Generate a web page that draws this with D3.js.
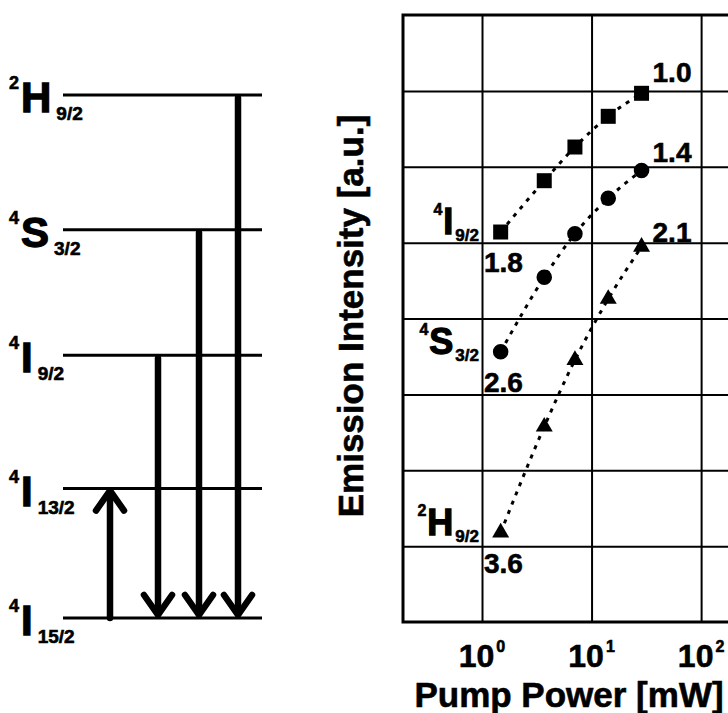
<!DOCTYPE html>
<html>
<head>
<meta charset="utf-8">
<script src="https://cdn.jsdelivr.net/npm/d3@7"></script>
<style>
  html, body { margin: 0; padding: 0; background: #fff; }
  svg { display: block; }
  text { font-family: "Liberation Sans", Arial, Helvetica, sans-serif; font-weight: bold; fill: #000; }
  .heavy { stroke: #000; stroke-width: 1.3px; }
  .semi { stroke: #000; stroke-width: 0.6px; }
</style>
</head>
<body>
<svg id="chart" width="728" height="713"></svg>
<script>
// ---- Energy-level scheme (energies in units of the pump photon energy) ----
const levelTerms  = [["4", "I", "15/2"], ["4", "I", "13/2"], ["4", "I", "9/2"], ["4", "S", "3/2"], ["2", "H", "9/2"]];
const levelEnergy = [0, 0.99, 2.01, 2.97, 4.0];
const pumpUpper   = 1;          // absorption 4I15/2 -> 4I13/2
const emitters    = [2, 3, 4];  // emission from these levels down to the ground state

// ---- Pump-power dependence of the emission ----
const pumpPower     = [1.48, 3.7, 7.05, 14.2, 28.6];          // mW
const seriesTerms   = [["4", "I", "9/2"], ["4", "S", "3/2"], ["2", "H", "9/2"]];
const intensityI92  = [1.38e5, 6.55e5, 1.82e6, 4.62e6, 9.29e6]; // a.u.
const intensityS32  = [3.65e3, 3.50e4, 1.31e5, 3.84e5, 8.93e5];
const intensityH92  = [15.1, 375, 2.84e3, 1.81e4, 8.83e4];
const slopeLow      = ["1.8", "2.6", "3.6"];
const slopeHigh     = ["1.0", "1.4", "2.1"];
const xTickValues   = [1, 10, 100];
const xTickExponent = ["0", "1", "2"];

const seriesValues  = [intensityI92, intensityS32, intensityH92];
const seriesSymbols = [d3.symbolSquare, d3.symbolCircle, d3.symbolTriangle];
const symbolSizes   = [225, 190, 125];
const highLabelDy   = [-11, -8, -5];

const svg = d3.select("#chart");

// Draws a spectroscopic term symbol: superscript multiplicity, letter, subscript J
function term(sel, parts, s) {
  const t = sel.append("text").attr("x", s.x).attr("y", s.y)
    .attr("text-anchor", s.anchor || "start");
  t.append("tspan").attr("font-size", s.sup).attr("class", "semi").attr("dy", -s.supRise).text(parts[0]);
  t.append("tspan").attr("font-size", s.main).attr("class", "heavy").attr("dy", s.supRise).attr("dx", s.mainDx).text(parts[1]);
  t.append("tspan").attr("font-size", s.sub).attr("class", "semi").attr("dy", s.subDrop).attr("dx", s.subDx).text(parts[2]);
  return t;
}

// ================= Left: energy-level diagram =================
const eY = d3.scaleLinear().domain([0, 4]).range([618, 95]);
const levelX0 = 63, levelX1 = 262;
const lev = svg.append("g");

lev.selectAll("line.level").data(levelEnergy).join("line")
  .attr("class", "level")
  .attr("x1", levelX0).attr("x2", levelX1)
  .attr("y1", d => eY(d)).attr("y2", d => eY(d))
  .attr("stroke", "#000").attr("stroke-width", 3);

levelTerms.forEach((p, i) => {
  term(lev, p, { x: 9, y: eY(levelEnergy[i]) + 17, sup: 18, main: 42, sub: 19,
                 supRise: 23, mainDx: 2, subDrop: 8, subDx: 5 });
});

// arrows
const arrowW = 6.5;
function shaft(x, y1, y2) {
  lev.append("line").attr("x1", x).attr("x2", x).attr("y1", y1).attr("y2", y2)
    .attr("stroke", "#000").attr("stroke-width", arrowW).attr("stroke-linecap", "round");
}
function head(x, tipY, dir) { // dir = -1 points up, +1 points down
  lev.append("path")
    .attr("d", d3.line()([[x - 14, tipY - dir * 20], [x, tipY], [x + 14, tipY - dir * 20]]))
    .attr("fill", "none").attr("stroke", "#000").attr("stroke-width", arrowW)
    .attr("stroke-linecap", "round").attr("stroke-linejoin", "round");
}
// pump (absorption) arrow
const pumpX = 110;
shaft(pumpX, eY(0), eY(levelEnergy[pumpUpper]) + 4);
head(pumpX, eY(levelEnergy[pumpUpper]) + 2, -1);
// emission arrows
const emitX = [158, 199, 238];
emitters.forEach((li, k) => {
  shaft(emitX[k], eY(levelEnergy[li]) + 3, eY(0) - 4);
  head(emitX[k], eY(0) - 3, 1);
});

// ================= Right: log-log intensity vs pump power =================
const plotL = 403, plotR = 780, plotT = 15, plotB = 622;
const x = d3.scaleLog().domain([0.19, 525]).range([plotL, plotR]);
const y = d3.scaleLog().domain([1, 1e8]).range([plotB, plotT]);
const plot = svg.append("g");

// grid via axes
plot.append("g").attr("transform", `translate(0,${plotB})`)
  .call(d3.axisBottom(x).tickValues(xTickValues).tickSizeInner(-(plotB - plotT)).tickSizeOuter(0).tickFormat(""))
  .call(g => g.select(".domain").remove())
  .call(g => g.selectAll(".tick line").attr("stroke", "#000").attr("stroke-width", 2));

const yGrid = d3.range(1, 8).map(k => Math.pow(10, k));
plot.append("g").attr("transform", `translate(${plotL},0)`)
  .call(d3.axisLeft(y).tickValues(yGrid).tickSizeInner(-(plotR - plotL)).tickSizeOuter(0).tickFormat(""))
  .call(g => g.select(".domain").remove())
  .call(g => g.selectAll(".tick line").attr("stroke", "#000").attr("stroke-width", 2));

plot.append("rect").attr("x", plotL).attr("y", plotT)
  .attr("width", plotR - plotL).attr("height", plotB - plotT)
  .attr("fill", "none").attr("stroke", "#000").attr("stroke-width", 3);

// tick labels 10^n
xTickValues.forEach((v, i) => {
  const t = plot.append("text").attr("x", x(v)).attr("y", 667).attr("text-anchor", "middle").attr("class", "semi");
  t.append("tspan").attr("font-size", 32).text("10");
  t.append("tspan").attr("font-size", 16).attr("dy", -15).attr("dx", 2).text(xTickExponent[i]);
});

// axis titles
svg.append("text").attr("x", (plotL + 735) / 2).attr("y", 707).attr("class", "semi")
  .attr("text-anchor", "middle").attr("font-size", 35).text("Pump Power [mW]");
svg.append("text").attr("transform", "translate(363,316) rotate(-90)").attr("class", "semi")
  .attr("text-anchor", "middle").attr("font-size", 35).text("Emission Intensity [a.u.]");

// series
const line = d3.line().x((d, i) => x(pumpPower[i])).y(d => y(d)).curve(d3.curveMonotoneX);
seriesValues.forEach((vals, s) => {
  plot.append("path").attr("d", line(vals))
    .attr("fill", "none").attr("stroke", "#000").attr("stroke-width", 3)
    .attr("stroke-dasharray", "4,6");
  plot.selectAll(null).data(vals).join("path")
    .attr("transform", (d, i) => `translate(${x(pumpPower[i])},${y(d)})`)
    .attr("d", d3.symbol(seriesSymbols[s], symbolSizes[s]))
    .attr("fill", "#000");

  const first = vals[0], last = vals[vals.length - 1];
  // slope labels: low-power slope under the first point, high-power slope beside the last
  plot.append("text").attr("x", x(xTickValues[0]) + 2).attr("y", y(first) + 40).attr("class", "semi")
    .attr("font-size", 28).text(slopeLow[s]);
  plot.append("text").attr("x", x(pumpPower[pumpPower.length - 1]) + 11)
    .attr("y", y(last) + highLabelDy[s]).attr("class", "semi")
    .attr("font-size", 28).text(slopeHigh[s]);
  // term label of the emitting level
  term(plot, seriesTerms[s], { x: x(1) - 3, y: y(first) + 2, anchor: "end",
                               sup: 16, main: 36, sub: 17, supRise: 19, mainDx: 1, subDrop: 7, subDx: 2 });
});
</script>
</body>
</html>
